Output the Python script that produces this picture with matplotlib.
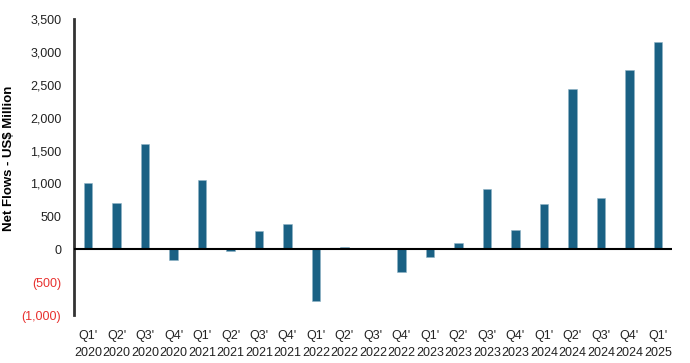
import matplotlib
matplotlib.use("Agg")
import matplotlib.pyplot as plt
from matplotlib.ticker import FuncFormatter

quarters = ["Q1'", "Q2'", "Q3'", "Q4'", "Q1'", "Q2'", "Q3'", "Q4'", "Q1'", "Q2'", "Q3'",
            "Q4'", "Q1'", "Q2'", "Q3'", "Q4'", "Q1'", "Q2'", "Q3'", "Q4'", "Q1'"]
years = ["2020", "2020", "2020", "2020", "2021", "2021", "2021", "2021", "2022", "2022", "2022",
         "2022", "2023", "2023", "2023", "2023", "2024", "2024", "2024", "2024", "2025"]
net_flows = [1000, 710, 1600, -160, 1050, -30, 280, 380, -780, 30, 0,
             -340, -110, 90, 910, 300, 690, 2430, 780, 2720, 3150]
yticks = [-1000, -500, 0, 500, 1000, 1500, 2000, 2500, 3000, 3500]

plt.rcParams['font.family'] = ['Liberation Sans', 'DejaVu Sans']

fig = plt.figure(figsize=(6.9, 3.63), dpi=100)
ax = fig.add_axes([0.107, 0.132, 0.867, 0.816])

x = list(range(len(net_flows)))
ax.bar(x, net_flows, width=0.3, color="#1a6184", edgecolor="#8fb3c6", linewidth=0.4, zorder=2)
ax.axhline(0, color="black", linewidth=1.5, zorder=3)

ax.set_xlim(-0.5, len(net_flows) - 0.5)
ax.set_ylim(-1000, 3500)
ax.set_yticks(yticks)

def fmt(v, pos):
    if v < 0:
        return "({:,.0f})".format(-v)
    return "{:,.0f}".format(v)

ax.yaxis.set_major_formatter(FuncFormatter(fmt))
for lbl, v in zip(ax.get_yticklabels(), yticks):
    lbl.set_color("#e8312f" if v < 0 else "#222222")

ax.set_xticks(x)
ax.set_xticklabels([q + "\n" + y for q, y in zip(quarters, years)], linespacing=1.5)
ax.tick_params(axis="x", length=0, pad=11, labelsize=9, colors="#222222")
ax.tick_params(axis="y", length=0, pad=9, labelsize=9)

for s in ["top", "right", "bottom"]:
    ax.spines[s].set_visible(False)
ax.spines["left"].set_color("#333333")
ax.spines["left"].set_linewidth(2)

ax.set_ylabel("Net Flows - US$ Million", fontsize=9.5, fontweight="bold")
ax.yaxis.set_label_coords(-0.099, 0.53)

fig.savefig("out.png", dpi=100)
